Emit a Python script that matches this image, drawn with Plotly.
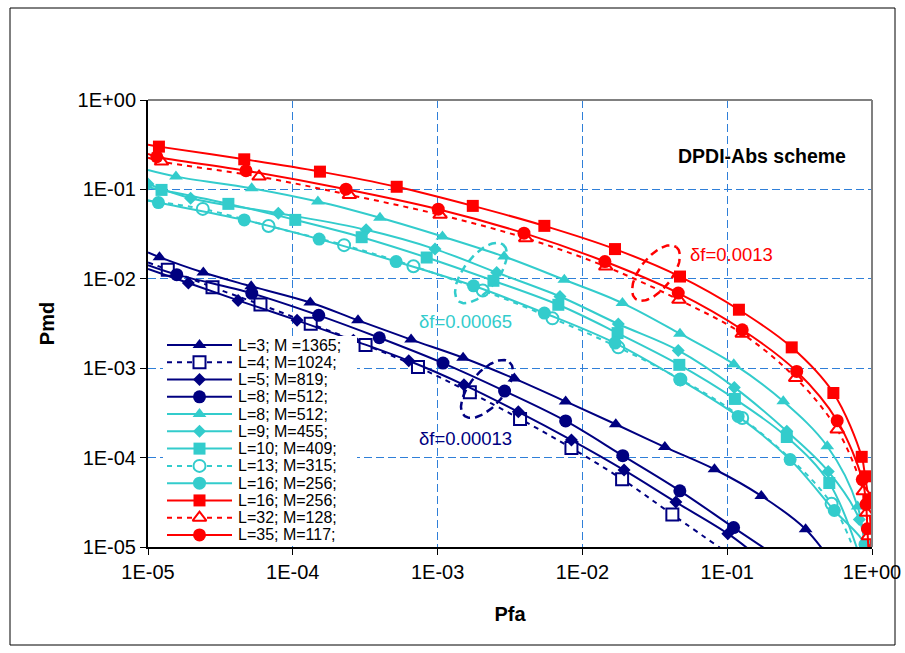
import numpy as np
import plotly.graph_objects as go

# ---------------- data ----------------
series_names = ["L=3; M =1365;", "L=4; M=1024;", "L=5; M=819;", "L=8; M=512;",
                "L=8; M=512;", "L=9; M=455;", "L=10; M=409;", "L=13; M=315;",
                "L=16; M=256;", "L=16; M=256;", "L=32; M=128;", "L=35; M=117;"]

pfa_L3_M1365 = [1.2e-5, 2.41e-5, 5.16e-5, 1.32e-4, 2.82e-4, 6.56e-4, 1.50e-3, 3.39e-3, 7.66e-3, 0.0170, 0.0371, 0.0817, 0.172, 0.348]
pmd_L3_M1365 = [0.01746, 0.01174, 0.00825, 0.00543, 0.00343, 0.00209, 0.00131, 7.65e-4, 4.25e-4, 2.36e-4, 1.31e-4, 7.41e-5, 3.73e-5, 1.58e-5]

pfa_L4_M1024 = [1.37e-5, 2.79e-5, 5.98e-5, 1.33e-4, 3.18e-4, 7.32e-4, 1.67e-3, 3.71e-3, 8.4e-3, 0.0188, 0.0418]
pmd_L4_M1024 = [0.01266, 0.00807, 0.00515, 0.00315, 0.00182, 1.03e-3, 5.37e-4, 2.71e-4, 1.28e-4, 5.73e-5, 2.31e-5]

pfa_L5_M819 = [1.90e-5, 4.19e-5, 1.07e-4, 2.62e-4, 6.32e-4, 1.52e-3, 3.61e-3, 8.4e-3, 0.0194, 0.0442, 0.101]
pmd_L5_M819 = [0.00898, 0.00573, 0.00343, 0.00205, 1.21e-3, 6.52e-4, 3.25e-4, 1.57e-4, 7.25e-5, 3.18e-5, 1.41e-5]

pfa_L8_M512_a = [1.58e-5, 5.21e-5, 1.51e-4, 3.96e-4, 1.09e-3, 2.9e-3, 7.66e-3, 0.019, 0.0471, 0.1107]
pmd_L8_M512_a = [0.01113, 0.00688, 0.0039, 0.00219, 1.14e-3, 5.55e-4, 2.57e-4, 1.05e-4, 4.25e-5, 1.65e-5]

pfa_L8_M512_b = [1.56e-5, 5.2e-5, 1.49e-4, 4.0e-4, 1.08e-3, 2.88e-3, 7.5e-3, 0.0189, 0.0472, 0.111, 0.244, 0.491, 0.796]
pmd_L8_M512_b = [0.139, 0.103, 0.0731, 0.0481, 0.0297, 0.01775, 0.00975, 0.00535, 0.00243, 1.11e-3, 4.26e-4, 1.34e-4, 2.84e-5]

pfa_L9_M455 = [1.0e-5, 1.97e-5, 7.94e-5, 3.21e-4, 9.6e-4, 2.56e-3, 7.0e-3, 0.0177, 0.0459, 0.112, 0.258, 0.499, 0.817]
pmd_L9_M455 = [0.115, 0.0798, 0.0542, 0.0353, 0.0215, 0.01175, 0.00634, 0.00312, 1.58e-3, 6.1e-4, 1.97e-4, 7.0e-5, 2.03e-5]

pfa_L10_M409 = [1.24e-5, 3.59e-5, 1.04e-4, 2.99e-4, 8.41e-4, 2.43e-3, 6.82e-3, 0.0175, 0.0467, 0.113, 0.258, 0.507]
pmd_L10_M409 = [0.0987, 0.0689, 0.0456, 0.0292, 0.0173, 0.0095, 0.00512, 0.00247, 1.09e-3, 4.53e-4, 1.7e-4, 5.2e-5]

pfa_L13_M315 = [2.39e-5, 6.8e-5, 2.26e-4, 6.81e-4, 2.05e-3, 6.21e-3, 0.0177, 0.0475, 0.127, 0.526]
pmd_L13_M315 = [0.0605, 0.039, 0.0238, 0.0138, 0.00741, 0.00361, 0.00171, 7.49e-4, 2.77e-4, 3.05e-5]

pfa_L16_M256_a = [1.18e-5, 4.62e-5, 1.52e-4, 5.17e-4, 1.77e-3, 5.46e-3, 0.0168, 0.0472, 0.119, 0.272, 0.549, 0.895]
pmd_L16_M256_a = [0.0712, 0.0456, 0.0278, 0.0156, 0.00835, 0.00414, 0.00191, 7.44e-4, 2.89e-4, 9.5e-5, 2.56e-5, 1.07e-5]

pfa_L16_M256_b = [1.19e-5, 4.62e-5, 1.54e-4, 5.22e-4, 1.75e-3, 5.46e-3, 0.0168, 0.0472, 0.1205, 0.279, 0.541, 0.849, 0.895, 0.943, 0.98]
pmd_L16_M256_b = [0.301, 0.217, 0.158, 0.107, 0.0654, 0.0391, 0.0215, 0.0106, 0.00451, 0.00171, 5.28e-4, 1.02e-4, 6.18e-5, 3.55e-5, 1.57e-5]

pfa_L32_M128 = [1.24e-5, 5.85e-5, 2.46e-4, 1.04e-3, 4.06e-3, 0.0145, 0.0464, 0.127, 0.297, 0.575, 0.871, 0.918, 0.943]
pmd_L32_M128 = [0.205, 0.139, 0.0868, 0.0519, 0.0285, 0.0137, 0.00582, 0.00243, 7.78e-4, 2.06e-4, 4.2e-5, 2.41e-5, 1.32e-5]

pfa_L35_M117 = [1.15e-5, 4.75e-5, 2.33e-4, 1.01e-3, 3.95e-3, 0.0143, 0.0459, 0.127, 0.302, 0.575, 0.857, 0.91, 0.929]
pmd_L35_M117 = [0.232, 0.162, 0.1005, 0.0601, 0.0324, 0.0156, 0.00692, 0.00269, 9.2e-4, 2.59e-4, 5.68e-5, 2.99e-5, 1.6e-5]

# where each drawn curve starts (at Pfa = 1E-05) and ends (below Pmd = 1E-05)
curve_start_pmd = [0.0197, 0.0152, 0.0129, 0.0142, 0.165, None, 0.106, 0.0745, 0.0755, 0.315, 0.226, 0.25]
curve_end_pfa = [0.6, 0.12, 0.16, 0.25, 0.93, 0.93, 0.9, 0.85, 0.97, 0.997, 0.975, 0.965]
curve_end_pmd = [5e-6, 7e-6, 8e-6, 6.8e-6, 5e-6, 5e-6, 5e-6, 5e-6, 5e-6, 5e-6, 5e-6, 5e-6]

x_tick_vals = [1e-5, 1e-4, 1e-3, 1e-2, 1e-1, 1e0]
x_tick_text = ["1E-05", "1E-04", "1E-03", "1E-02", "1E-01", "1E+00"]
y_tick_vals = [1e-5, 1e-4, 1e-3, 1e-2, 1e-1, 1e0]
y_tick_text = ["1E-05", "1E-04", "1E-03", "1E-02", "1E-01", "1E+00"]

pfa_data = [pfa_L3_M1365, pfa_L4_M1024, pfa_L5_M819, pfa_L8_M512_a, pfa_L8_M512_b, pfa_L9_M455,
            pfa_L10_M409, pfa_L13_M315, pfa_L16_M256_a, pfa_L16_M256_b, pfa_L32_M128, pfa_L35_M117]
pmd_data = [pmd_L3_M1365, pmd_L4_M1024, pmd_L5_M819, pmd_L8_M512_a, pmd_L8_M512_b, pmd_L9_M455,
            pmd_L10_M409, pmd_L13_M315, pmd_L16_M256_a, pmd_L16_M256_b, pmd_L32_M128, pmd_L35_M117]

# ---------------- styles ----------------
NAVY, CYAN, RED = "#000080", "#33CCCC", "#FF0000"
colors = [NAVY] * 4 + [CYAN] * 5 + [RED] * 3
symbols = ["triangle-up", "square", "diamond", "circle", "triangle-up", "diamond", "square",
           "circle", "circle", "square", "triangle-up", "circle"]
hollow = [False, True, False, False, False, False, False, True, False, False, True, False]
dotted = hollow
msize = [12, 12, 10, 13, 12, 10, 12, 12, 13, 12, 12, 13]
FONT = "Arial, Liberation Sans, sans-serif"
DOT = "5px,5px"

# plot area in page pixels
L, R, T, B = 148, 872, 100, 547
W, H = 905, 653
def fx(px):
    return (np.asarray(px, dtype=float) - L) / (R - L)
def fy(py):
    return (B - np.asarray(py, dtype=float)) / (B - T)

fig = go.Figure()

for i in range(12):
    xs = list(pfa_data[i])
    ys = list(pmd_data[i])
    lx, ly = xs[:], ys[:]
    if curve_start_pmd[i] is not None:
        lx = [1e-5] + lx
        ly = [curve_start_pmd[i]] + ly
    lx = lx + [curve_end_pfa[i]]
    ly = ly + [curve_end_pmd[i]]
    fig.add_trace(go.Scatter(
        x=lx, y=ly, mode="lines", name=series_names[i], showlegend=False,
        line=dict(color=colors[i], width=2, shape="spline", smoothing=1,
                  dash=DOT if dotted[i] else "solid"),
        hoverinfo="skip"))
    fig.add_trace(go.Scatter(
        x=xs, y=ys, mode="markers", name=series_names[i], showlegend=False,
        marker=dict(symbol=symbols[i], size=msize[i],
                    color="white" if hollow[i] else colors[i],
                    line=dict(color=colors[i], width=2 if hollow[i] else 0))))

# ---------------- hand-made legend (overlay axes in plot-area fractions) ----------------
box_l, box_r, box_t, box_b = 163, 357, 336, 546
fig.add_trace(go.Scatter(
    x=fx([box_l, box_r, box_r, box_l, box_l]).tolist(),
    y=fy([box_t, box_t, box_b, box_b, box_t]).tolist(),
    xaxis="x2", yaxis="y2", mode="lines", fill="toself", fillcolor="white",
    line=dict(width=0, color="white"), showlegend=False, hoverinfo="skip"))

leg_x0, leg_x1, leg_xm, leg_tx = 167, 232, 199.5, 236
leg_y0, leg_dy = 345, 17.27
for i in range(12):
    yy = float(fy(leg_y0 + i * leg_dy))
    fig.add_trace(go.Scatter(
        x=[float(fx(leg_x0)), float(fx(leg_x1))], y=[yy, yy], xaxis="x2", yaxis="y2", mode="lines",
        showlegend=False, hoverinfo="skip",
        line=dict(color=colors[i], width=2, dash=DOT if dotted[i] else "solid")))
    fig.add_trace(go.Scatter(
        x=[float(fx(leg_xm))], y=[yy], xaxis="x2", yaxis="y2", mode="markers",
        showlegend=False, hoverinfo="skip",
        marker=dict(symbol=symbols[i], size=msize[i],
                    color="white" if hollow[i] else colors[i],
                    line=dict(color=colors[i], width=2 if hollow[i] else 0))))
    fig.add_annotation(x=float(fx(leg_tx)), y=yy, xref="x2", yref="y2", text=series_names[i],
                       showarrow=False, xanchor="left", yanchor="middle",
                       font=dict(family=FONT, size=16, color="black"))

# dashed ellipses grouping the curves
ellipses = [  # cx, cy, a, b, angle(deg), color
    (656, 273, 33, 16, -52, RED),
    (481, 273, 36, 17, -52, CYAN),
    (487, 389, 35, 17, -50, NAVY),
]
t = np.linspace(0, 2 * np.pi, 120)
for cx, cy, a, b, ang, col in ellipses:
    th = np.radians(ang)
    ex = cx + a * np.cos(t) * np.cos(th) - b * np.sin(t) * np.sin(th)
    ey = cy + a * np.cos(t) * np.sin(th) + b * np.sin(t) * np.cos(th)
    fig.add_trace(go.Scatter(x=fx(ex).tolist(), y=fy(ey).tolist(), xaxis="x2", yaxis="y2", mode="lines",
                             showlegend=False, hoverinfo="skip",
                             line=dict(color=col, width=2.5, dash="8px,5px")))

notes = [("δf=0.0013", 688, 254, RED), ("δf=0.00065", 417, 321, CYAN), ("δf=0.00013", 417, 438, NAVY)]
for txt, px, py, col in notes:
    fig.add_annotation(x=float(fx(px)), y=float(fy(py)), xref="x2", yref="y2", text=txt, showarrow=False,
                       xanchor="left", yanchor="middle", font=dict(family=FONT, size=18.5, color=col))

fig.add_annotation(x=float(fx(848)), y=float(fy(156)), xref="x2", yref="y2", text="<b>DPDI-Abs scheme</b>",
                   showarrow=False, xanchor="right", yanchor="middle",
                   font=dict(family=FONT, size=19.5, color="black"))

# plot frame (grey top/right) and outer border
fig.add_shape(type="line", xref="paper", yref="paper", x0=0, x1=1, y0=1, y1=1,
              line=dict(color="#808080", width=2))
fig.add_shape(type="line", xref="paper", yref="paper", x0=1, x1=1, y0=0, y1=1,
              line=dict(color="#808080", width=2))
fig.add_shape(type="rect", xref="paper", yref="paper",
              x0=float(fx(10)), x1=float(fx(895)), y0=float(fy(645)), y1=float(fy(8)),
              line=dict(color="black", width=1))

axis_common = dict(
    type="log", showgrid=True, gridcolor="#2F7FD8", gridwidth=1, griddash="8px,4px",
    showline=True, linecolor="black", linewidth=2, ticks="outside", ticklen=6,
    tickcolor="black", tickwidth=1, zeroline=False, automargin=False,
    tickfont=dict(family=FONT, size=20, color="black"),
)
fig.update_layout(
    width=W, height=H,
    margin=dict(l=L, r=W - R, t=T, b=H - B, autoexpand=False),
    paper_bgcolor="white", plot_bgcolor="white",
    showlegend=False,
    xaxis=dict(axis_common, range=[-5, 0], tickvals=x_tick_vals, ticktext=x_tick_text,
               title=dict(text="<b>Pfa</b>", standoff=25, font=dict(family=FONT, size=20, color="black"))),
    yaxis=dict(axis_common, range=[-5, 0], tickvals=y_tick_vals, ticktext=y_tick_text,
               title=dict(text="<b>Pmd</b>", standoff=18, font=dict(family=FONT, size=20, color="black"))),
    xaxis2=dict(overlaying="x", anchor="y2", range=[0, 1], visible=False),
    yaxis2=dict(overlaying="y", anchor="x2", range=[0, 1], visible=False),
)

fig.write_html("out.html")
